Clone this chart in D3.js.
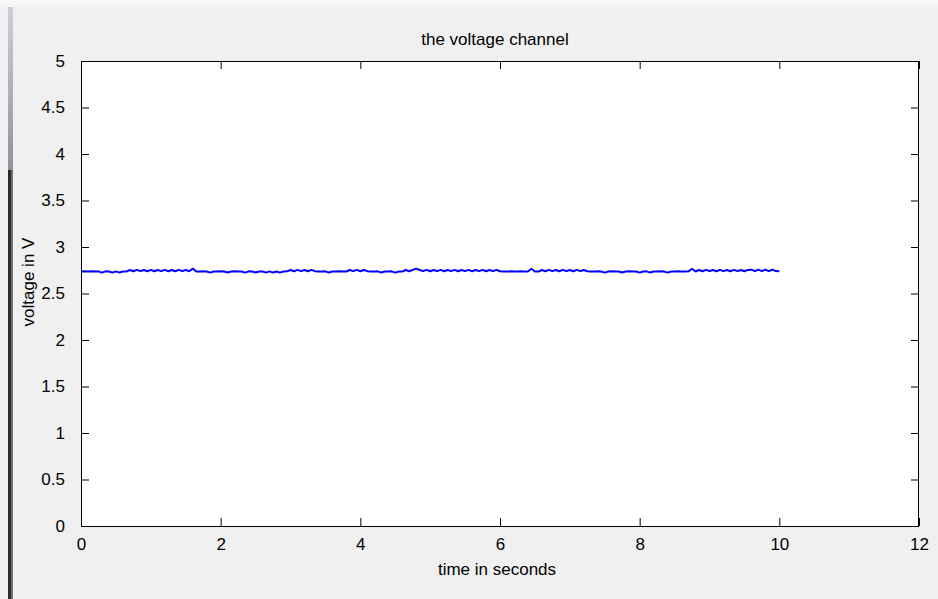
<!DOCTYPE html>
<html>
<head>
<meta charset="utf-8">
<script src="https://cdn.jsdelivr.net/npm/d3@7/dist/d3.min.js"></script>
<style>
  body { margin: 0; background: #f0f0f0; }
  svg { display: block; font-family: "Liberation Sans", Arial, sans-serif; }
</style>
</head>
<body>
<div></div>
<script>
// sampled voltage channel, t = 0:0.05:10
var sampleStart = 0;
var sampleStep = 0.05;
var voltage = [
  2.736, 2.738, 2.736, 2.738, 2.736, 2.738, 2.724, 2.738, 2.736, 2.724,
  2.738, 2.725, 2.737, 2.736, 2.753, 2.739, 2.754, 2.740, 2.753, 2.739,
  2.754, 2.739, 2.753, 2.740, 2.754, 2.739, 2.753, 2.739, 2.754, 2.740,
  2.753, 2.739, 2.768, 2.737, 2.736, 2.738, 2.736, 2.724, 2.737, 2.736,
  2.738, 2.736, 2.725, 2.737, 2.738, 2.736, 2.737, 2.724, 2.738, 2.736,
  2.725, 2.737, 2.736, 2.724, 2.738, 2.725, 2.737, 2.724, 2.736, 2.738,
  2.753, 2.739, 2.754, 2.740, 2.753, 2.739, 2.754, 2.740, 2.737, 2.736,
  2.738, 2.725, 2.737, 2.736, 2.738, 2.736, 2.737, 2.753, 2.740, 2.754,
  2.739, 2.753, 2.740, 2.737, 2.736, 2.738, 2.725, 2.737, 2.736, 2.738,
  2.724, 2.737, 2.736, 2.753, 2.739, 2.754, 2.768, 2.753, 2.740, 2.754,
  2.739, 2.753, 2.740, 2.754, 2.739, 2.753, 2.740, 2.754, 2.739, 2.753,
  2.740, 2.754, 2.739, 2.753, 2.740, 2.754, 2.739, 2.753, 2.740, 2.754,
  2.739, 2.737, 2.736, 2.738, 2.736, 2.737, 2.738, 2.736, 2.737, 2.766,
  2.737, 2.736, 2.753, 2.739, 2.754, 2.740, 2.753, 2.739, 2.754, 2.740,
  2.753, 2.739, 2.754, 2.740, 2.753, 2.739, 2.737, 2.736, 2.738, 2.736,
  2.724, 2.737, 2.738, 2.736, 2.737, 2.725, 2.736, 2.738, 2.737, 2.736,
  2.724, 2.737, 2.738, 2.725, 2.736, 2.737, 2.738, 2.736, 2.724, 2.737,
  2.736, 2.738, 2.737, 2.736, 2.738, 2.766, 2.737, 2.753, 2.739, 2.754,
  2.740, 2.753, 2.739, 2.754, 2.740, 2.753, 2.739, 2.754, 2.740, 2.753,
  2.739, 2.754, 2.756, 2.740, 2.757, 2.741, 2.756, 2.740, 2.757, 2.741,
  2.740
];

var xTicks = [0, 2, 4, 6, 8, 10, 12];
var yTicks = [0, 0.5, 1, 1.5, 2, 2.5, 3, 3.5, 4, 4.5, 5];

var titleText = "the voltage channel";
var xLabelText = "time in seconds";
var yLabelText = "voltage in V";

var W = 938, H = 599;
// axes box in pixels
var boxL = 81, boxR = 919, boxT = 61, boxB = 526;
var tickLen = 8;
var fontSize = "17px";

var svg = d3.select("div").append("svg")
    .attr("width", W)
    .attr("height", H);

svg.append("rect").attr("width", W).attr("height", H).attr("fill", "#f0f0f0");
svg.append("rect").attr("width", W).attr("height", 7).attr("fill", "#f7f7f7");

// window frame on the left edge
var grad = svg.append("defs").append("linearGradient")
    .attr("id", "frameTop").attr("x1", 0).attr("x2", 0).attr("y1", 0).attr("y2", 1);
grad.append("stop").attr("offset", "0%").attr("stop-color", "#c9d0da");
grad.append("stop").attr("offset", "100%").attr("stop-color", "#8d939c");
svg.append("rect").attr("x", 8).attr("y", 7).attr("width", 5).attr("height", 163)
    .attr("fill", "url(#frameTop)");
svg.append("rect").attr("x", 8).attr("y", 170).attr("width", 3).attr("height", H - 170)
    .attr("fill", "#2a2c30");
svg.append("rect").attr("x", 11).attr("y", 170).attr("width", 2).attr("height", H - 170)
    .attr("fill", "#6c6f74");

var x = d3.scaleLinear().domain([0, 12]).range([boxL, boxR]);
var y = d3.scaleLinear().domain([0, 5]).range([boxB, boxT]);

// axes background
svg.append("rect")
    .attr("x", boxL).attr("y", boxT)
    .attr("width", boxR - boxL).attr("height", boxB - boxT)
    .attr("fill", "#ffffff");

var line = d3.line()
    .x(function(d, i) { return x(sampleStart + i * sampleStep); })
    .y(function(d) { return y(d); });

svg.append("path")
    .datum(voltage)
    .attr("d", line)
    .attr("fill", "none")
    .attr("stroke", "#0000ff")
    .attr("stroke-width", 2)
    .attr("stroke-linejoin", "bevel");

// axes, MATLAB style box with inward ticks
var fmt = function(d) { return String(d); };

svg.append("g")
    .attr("transform", "translate(0," + boxB + ")")
    .call(d3.axisBottom(x).tickValues(xTicks).tickFormat(fmt)
        .tickSizeInner(-tickLen).tickSizeOuter(0).tickPadding(12));
svg.append("g")
    .attr("transform", "translate(0," + boxT + ")")
    .call(d3.axisTop(x).tickValues(xTicks).tickFormat("")
        .tickSizeInner(-tickLen).tickSizeOuter(0));
svg.append("g")
    .attr("transform", "translate(" + boxL + ",0)")
    .call(d3.axisLeft(y).tickValues(yTicks).tickFormat(fmt)
        .tickSizeInner(-tickLen).tickSizeOuter(0).tickPadding(16));
svg.append("g")
    .attr("transform", "translate(" + boxR + ",0)")
    .call(d3.axisRight(y).tickValues(yTicks).tickFormat("")
        .tickSizeInner(-tickLen).tickSizeOuter(0));

svg.selectAll(".domain").remove();
svg.selectAll(".tick line").attr("stroke", "#000");
svg.selectAll(".tick text")
    .attr("fill", "#000")
    .style("font-family", "'Liberation Sans', Arial, sans-serif")
    .style("font-size", fontSize);

svg.append("rect")
    .attr("x", boxL + 0.5).attr("y", boxT + 0.5)
    .attr("width", boxR - boxL - 1).attr("height", boxB - boxT)
    .attr("fill", "none")
    .attr("stroke", "#000")
    .attr("stroke-width", 1);

svg.append("text")
    .attr("x", 495).attr("y", 45)
    .attr("text-anchor", "middle")
    .style("font-size", fontSize)
    .text(titleText);

svg.append("text")
    .attr("x", 497).attr("y", 575)
    .attr("text-anchor", "middle")
    .style("font-size", fontSize)
    .text(xLabelText);

svg.append("text")
    .attr("transform", "translate(34,282) rotate(-90)")
    .attr("text-anchor", "middle")
    .style("font-size", fontSize)
    .text(yLabelText);
</script>
</body>
</html>
